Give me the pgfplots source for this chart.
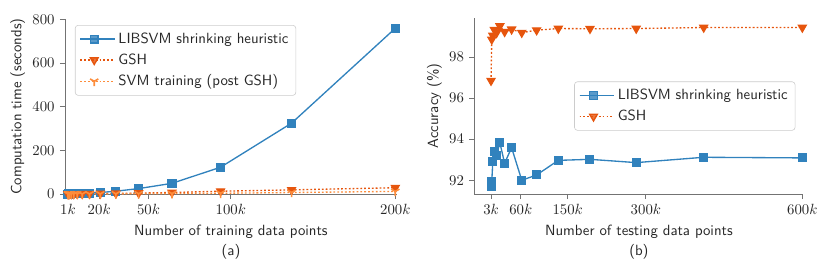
\documentclass[border=0pt]{standalone}
\usepackage{fontspec}
\usepackage{pgfplots}
\pgfplotsset{compat=1.18}
\definecolor{cblue}{HTML}{3182BD}
\definecolor{corange}{HTML}{E6550D}
\definecolor{clorange}{HTML}{FD8D3C}
\pgfplotsset{
 mystyle/.style={
  scale only axis,
  axis x line*=bottom, axis y line*=left,
  axis line style={black!55, line width=0.6pt},
  tick align=outside,
  major tick length=3.5pt,
  tick style={black!55, line width=0.6pt},
  tick label style={text=black!85},
  label style={font=\sffamily, text=black!85},
  ylabel style={xshift=0pt, yshift=-2pt},
  scaled ticks=false,
  clip=false,
  legend cell align=left,
  legend style={draw=black!20, rounded corners=2pt, fill=white, fill opacity=0.8, text opacity=1, font=\sffamily, text=black!85, row sep=1.5pt, inner ysep=3pt},
  legend image code/.code={\draw[mark repeat=2,mark phase=2] plot coordinates {(0cm,0cm) (0.33cm,0cm) (0.66cm,0cm)}; \path (0cm,0cm) -- (0.82cm,0cm);},
 },
 libsvm/.style={color=cblue, line width=0.9pt, solid, mark=square*, mark size=2.6pt, mark options={solid}},
 gsh/.style={color=corange, line width=0.9pt, dash pattern=on 1.2pt off 1.4pt, mark=triangle*, mark size=3pt, mark options={solid, rotate=180}},
 svmt/.style={color=clorange, line width=0.9pt, dash pattern=on 1.2pt off 1.4pt, mark=Mercedes star flipped, mark size=3.2pt, mark options={solid, line width=1.1pt}},
}
\pgfplotstableread{
x libsvm gsh svm
1000 0.1 0.1 0.05
1460 0.2 0.15 0.05
2132 0.4 0.2 0.05
3112 0.7 0.3 0.05
4544 1.2 0.4 0.08
6634 1.8 0.6 0.1
9685 2.5 0.9 0.15
14141 4 1.3 0.25
20645 7 2 0.4
30142 13 3 0.7
44007 25 4.5 1.2
64250 49 7 2
93804 123 13 3.5
136951 325 19 7
200000 760 29 12
}\timedata
\pgfplotstableread{
x libsvm gsh
3000 91.72 96.85
4380 91.93 98.86
6396 92.91 99.05
9336 93.39 99.33
13632 93.23 99.18
19902 93.83 99.51
29055 92.83 99.23
42423 93.59 99.35
61935 92.00 99.19
90426 92.26 99.31
132021 92.97 99.39
192750 93.02 99.38
281412 92.86 99.39
410853 93.12 99.44
600000 93.09 99.44
}\accdata
\begin{document}
\begin{tikzpicture}
\useasboundingbox (-43.9pt,-51.4pt) rectangle (516.9pt,131.1pt);
\begin{axis}[mystyle,
  at={(0pt,0pt)}, anchor=south west,
  width=224.3pt, height=118.2pt,
  xmin=-800, xmax=201000, ymin=0, ymax=802,
  xtick={1000,20000,50000,100000,200000},
  xticklabels={$1k$,$20k$,$50k$,$100k$,$200k$},
  ytick={0,200,400,600,800},
  xlabel={Number of training data points\\[1.5pt](a)},
  xlabel style={align=center},
  ylabel={Computation time (seconds)},
  legend style={at={(0.030,0.966)}, anchor=north west},
]
\addplot[libsvm] table[x=x, y=libsvm] {\timedata};
\addlegendentry{LIBSVM shrinking heuristic}
\addplot[gsh] table[x=x, y=gsh] {\timedata};
\addlegendentry{GSH}
\addplot[svmt] table[x=x, y=svm] {\timedata};
\addlegendentry{SVM training (post GSH)}
\end{axis}
\begin{axis}[mystyle,
  at={(276.6pt,0pt)}, anchor=south west,
  width=222.3pt, height=118.9pt,
  xmin=-29000, xmax=602000, ymin=91.33, ymax=99.90,
  xtick={3000,60000,150000,300000,600000},
  xticklabels={$3k$,$60k$,$150k$,$300k$,$600k$},
  ytick={92,94,96,98},
  xlabel={Number of testing data points\\[1.5pt](b)},
  xlabel style={align=center},
  ylabel={Accuracy (\%)},
  legend style={at={(0.9757,0.5)}, anchor=east},
]
\addplot[libsvm] table[x=x, y=libsvm] {\accdata};
\addlegendentry{LIBSVM shrinking heuristic}
\addplot[gsh] table[x=x, y=gsh] {\accdata};
\addlegendentry{GSH}
\end{axis}
\end{tikzpicture}
\end{document}
